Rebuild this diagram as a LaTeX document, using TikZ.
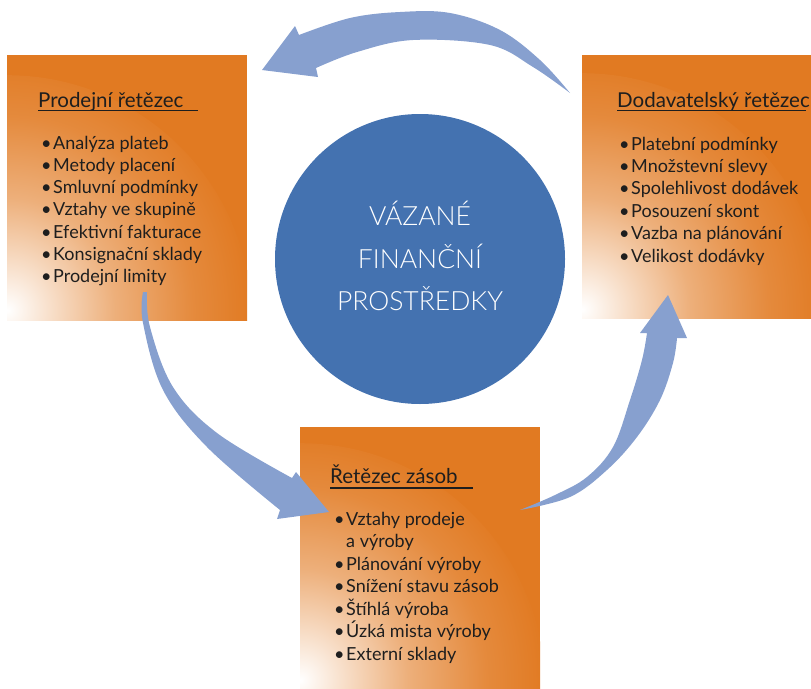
\documentclass[tikz,border=0pt]{standalone}
\usepackage{fontspec}
\setmainfont{Lato}
\IfFontExistsTF{Lato Light}{\newfontfamily\lightfont{Lato Light}}{\newfontfamily\lightfont{Lato}}
\definecolor{orng}{HTML}{E17A22}
\definecolor{arw}{HTML}{87A0CF}
\definecolor{circ}{HTML}{4472B0}
\definecolor{ink}{HTML}{1E1E1E}
\pgfdeclareradialshading{orfade}{\pgfpoint{0bp}{0bp}}{color(0bp)=(white); color(4bp)=(orng!22!white); color(11bp)=(orng!60!white); color(19bp)=(orng!88!white); color(25bp)=(orng); color(50bp)=(orng)}
\newcommand{\bul}{\makebox[12pt][l]{\textbullet}}
\tikzset{
  orbox/.style={rectangle, inner sep=0, anchor=north west, draw=none, fill=orng,
    path picture={\shade[shading=orfade] (path picture bounding box.south west) circle (245pt);}},
  ttl/.style={anchor=base west, inner sep=0, text=ink, font=\fontsize{20.5}{22}\selectfont},
  item/.style={anchor=base west, inner sep=0, text=ink, font=\fontsize{18}{20}\selectfont},
  uline/.style={draw=ink, line width=1.6pt},
  blockarrow/.style={fill=arw, draw=none}
}
\begin{document}
\begin{tikzpicture}[x=1pt,y=-1pt]
\useasboundingbox (0,0) rectangle (811,688);
% boxes
\node[orbox, minimum width=240pt, minimum height=265pt] (bl) at (7,55) {};
\node[orbox, minimum width=229pt, minimum height=263pt] (br) at (582,55) {};
\node[orbox, minimum width=240pt, minimum height=261pt] (bb) at (300,427) {};
% center circle
\node[circle, fill=circ, minimum size=290pt, inner sep=0] (mid) at (420,259) {};
\node[align=center, text=white, font=\lightfont\fontsize{26.5}{42.5}\selectfont, inner sep=0] (midtxt) at (420,256) {VÁZANÉ\\FINANČNÍ\\PROSTŘEDKY};
% left box text
\node[ttl] (tl) at (38,107) {Prodejní řetězec};
\draw[uline] ([yshift=-3.5pt]tl.base west) -- ++(160,0);
\foreach \t [count=\i from 0] in {Analýza plateb, Metody placení, Smluvní podmínky, Vztahy ve skupině, Efektivní fakturace, Konsignační sklady, Prodejní limity}
  \node[item] (l\i) at (41,149+22.3*\i) {\bul\t};
% right box text
\node[ttl] (tr) at (617,107) {Dodavatelský řetězec};
\draw[uline] ([yshift=-3.5pt]tr.base west) -- ++(189,0);
\foreach \t [count=\i from 0] in {Platební podmínky, Množstevní slevy, Spolehlivost dodávek, Posouzení skont, Vazba na plánování, Velikost dodávky}
  \node[item] (r\i) at (619,150+22.4*\i) {\bul\t};
% bottom box text
\node[ttl] (tb) at (330,483) {Řetězec zásob};
\draw[uline] ([yshift=-5pt]tb.base west) -- ++(143,0);
\node[item] (b0) at (334,525) {\bul Vztahy prodeje};
\node[item] (b0b) at (346,547.5) {a výroby};
\foreach \t [count=\i from 1] in {Plánování výroby, Snížení stavu zásob, Štíhlá výroba, Úzká mista výroby, Externí sklady}
  \node[item] (b\i) at (334,547.5+22.5*\i) {\bul\t};
% top arrow (right box -> left box)
\fill[blockarrow] (262,70) -- (318,77) -- (316,68)
  -- plot[smooth, tension=0.6] coordinates {(316,68) (357,52) (413,40) (490,45) (533,67) (570,93)}
  -- plot[smooth, tension=0.6] coordinates {(570,93) (540,60) (500,30) (450,13) (400,12) (350,18) (299,35)}
  -- (295,26) -- cycle;
% left arrow (left box -> bottom box)
\fill[blockarrow] (329,512) -- (277,519) -- (280,510)
  -- plot[smooth, tension=0.6] coordinates {(280,510) (207,447) (163,390) (143,323) (143,292)}
  -- plot[smooth, tension=0.6] coordinates {(147,292) (150,327) (173,387) (217,433) (292,478)}
  -- (296,472) -- cycle;
% right arrow (bottom box -> right box)
\fill[blockarrow] (668,295) -- (687,338) -- (677,338)
  -- plot[smooth, tension=0.6] coordinates {(677,338) (673,363) (660,400) (637,437) (607,470) (570,497) (520,510)}
  -- plot[smooth, tension=0.6] coordinates {(520,510) (555,495) (587,477) (613,447) (630,400) (642,360) (647,333)}
  -- (640,333) -- cycle;
\end{tikzpicture}
\end{document}
